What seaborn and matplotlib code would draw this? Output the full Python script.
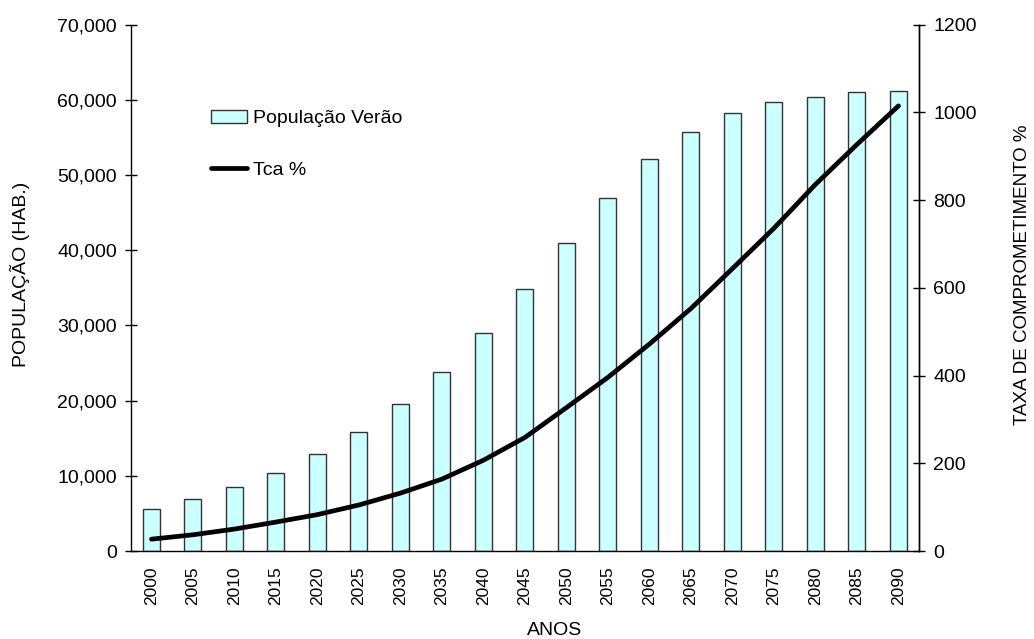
import numpy as np
import pandas as pd
import matplotlib
matplotlib.use("Agg")
import matplotlib.pyplot as plt
from matplotlib.ticker import FuncFormatter, FixedLocator, MultipleLocator
from matplotlib.patches import Patch
from matplotlib.lines import Line2D
import seaborn as sns

# Projected summer population and commitment rate
anos = ["2000", "2005", "2010", "2015", "2020", "2025", "2030", "2035", "2040", "2045",
        "2050", "2055", "2060", "2065", "2070", "2075", "2080", "2085", "2090"]
populacao_verao = [5550, 6880, 8560, 10420, 12870, 15880, 19520, 23860, 28970, 34830,
                   41030, 46980, 52130, 55760, 58250, 59710, 60420, 61000, 61220]
tca = [27, 37, 50, 66, 83, 105, 132, 164, 207, 259,
       327, 396, 472, 553, 644, 736, 836, 927, 1015]

sns.set_style("white")
plt.rcParams["font.family"] = ["Liberation Sans", "DejaVu Sans"]
for key in ("text.color", "axes.labelcolor", "xtick.color", "ytick.color", "axes.edgecolor"):
    plt.rcParams[key] = "black"
plt.rcParams["axes.linewidth"] = 1.0

df = pd.DataFrame({"ano": anos, "pop": populacao_verao, "tca": tca})

fig = plt.figure(figsize=(10.34, 6.39), dpi=100)
ax = fig.add_axes([0.1264, 0.1377, 0.7626, 0.8236])

sns.barplot(data=df, x="ano", y="pop", ax=ax, color="#CCFFFF", saturation=1,
            width=0.41, edgecolor="#333333", linewidth=1.0)

ax2 = ax.twinx()
sns.lineplot(x=np.arange(len(anos)), y=df["tca"], ax=ax2, color="black",
             linewidth=3.4, solid_capstyle="round", solid_joinstyle="round")

n = len(anos)
ax.set_xlim(-0.5, n - 0.5)
ax.set_ylim(0, 70000)
ax2.set_ylim(0, 1200)

ax.yaxis.set_major_locator(MultipleLocator(10000))
ax.yaxis.set_major_formatter(FuncFormatter(lambda v, p: f"{int(v):,}"))
ax2.yaxis.set_major_locator(MultipleLocator(200))

# year labels centered on categories, tick marks on category boundaries
ax.set_xticks(np.arange(n))
ax.set_xticklabels(anos, rotation=90)
ax.xaxis.set_minor_locator(FixedLocator(np.arange(n + 1) - 0.5))
ax.tick_params(axis="x", which="major", length=0, pad=11, labelsize=12.5)
ax.tick_params(axis="x", which="minor", length=8, direction="inout", width=1, color="black")
ax.tick_params(axis="y", which="major", length=8, direction="inout", width=1, color="black",
               labelsize=14, pad=6, left=True)
ax2.tick_params(axis="y", which="major", length=8, direction="inout", width=1, color="black",
                labelsize=14, pad=6, right=True)

for a in (ax, ax2):
    a.spines["top"].set_visible(False)
    for s in ("left", "right", "bottom"):
        a.spines[s].set_color("black")
        a.spines[s].set_linewidth(1.0)
ax2.spines["left"].set_visible(False)
ax2.spines["bottom"].set_visible(False)

ax.set_xlabel("ANOS", fontsize=14)
ax.xaxis.set_label_coords(0.538, -0.135)
ax.set_ylabel("POPULAÇÃO (HAB.)", fontsize=14, va="center", rotation_mode="anchor")
ax.yaxis.set_label_coords(-0.1404, 0.525)
ax2.set_ylabel("TAXA DE COMPROMETIMENTO %", fontsize=13.5, rotation=90,
               va="center", ha="center", rotation_mode="anchor")
ax2.yaxis.set_label_coords(1.1315, 0.525)

handles = [Patch(facecolor="#CCFFFF", edgecolor="#333333", linewidth=1.0),
           Line2D([0], [0], color="black", linewidth=3.4, solid_capstyle="round")]
leg = ax.legend(handles, ["População Verão", "Tca %"], loc="upper left",
                bbox_to_anchor=(0.0926, 0.853), frameon=False, fontsize=14,
                handlelength=1.85, handleheight=0.7, handletextpad=0.3, labelspacing=1.73,
                borderaxespad=0)

fig.savefig("out.png", dpi=100, facecolor="white")
